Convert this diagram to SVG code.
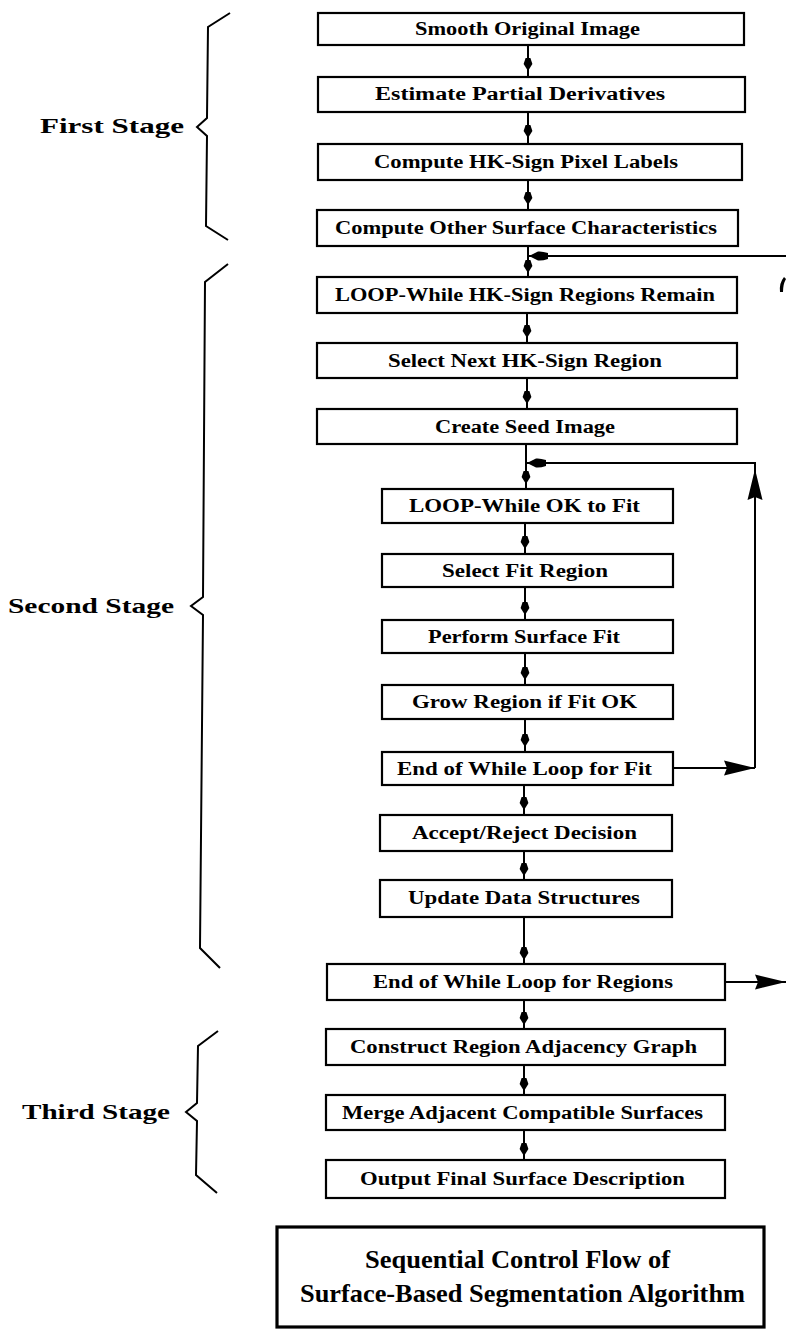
<svg xmlns="http://www.w3.org/2000/svg" width="786" height="1333" viewBox="0 0 786 1333">
  <style>
    .box { fill: #fff; stroke: #000; stroke-width: 2.2; }
    .title-box { fill: #fff; stroke: #000; stroke-width: 3.2; }
    .lbl { font-family: "Liberation Serif", "Times New Roman", serif; font-weight: bold; font-size: 18px; fill: #000; text-anchor: middle; }
    .stage { font-family: "Liberation Serif", "Times New Roman", serif; font-weight: bold; font-size: 22px; fill: #000; }
    .title { font-family: "Liberation Serif", "Times New Roman", serif; font-weight: bold; font-size: 25px; fill: #000; text-anchor: middle; }
    .wire { fill: none; stroke: #000; stroke-width: 2; }
    .brace { fill: none; stroke: #000; stroke-width: 2; stroke-linejoin: miter; }
  </style>
  <defs>
    <!-- small teardrop head used on the straight-down links -->
    <marker id="tip" markerUnits="userSpaceOnUse" markerWidth="14" markerHeight="10" refX="13" refY="5" orient="auto">
      <path d="M0,2.6 L6,0.6 L13,5 L6,9.4 L0,7.4 z" fill="#000"/>
    </marker>
    <!-- large solid head for the loop-back lines -->
    <marker id="big" markerUnits="userSpaceOnUse" markerWidth="32" markerHeight="16" refX="31" refY="8" orient="auto">
      <path d="M0,0.5 L31,8 L0,15.5 L3,8 z" fill="#000"/>
    </marker>
    <!-- junction head where a loop re-enters the main line -->
    <marker id="flag" markerUnits="userSpaceOnUse" markerWidth="20" markerHeight="12" refX="19" refY="6" orient="auto">
      <path d="M0,3 Q6,1 10,1.5 L19,6 L10,10.5 Q6,11 0,9 z" fill="#000"/>
    </marker>
  </defs>

  <!-- stage brackets and labels -->
  <g id="stage-first">
    <polyline class="brace" points="230,13 208,27 207,118 197,127 207,136 206,226 228,240"/>
    <text class="stage" x="40" y="133" textLength="144" lengthAdjust="spacingAndGlyphs">First Stage</text>
  </g>
  <g id="stage-second">
    <polyline class="brace" points="228,264 205,282 203,597 191,606 203,615 200,948 220,968"/>
    <text class="stage" x="8" y="613" textLength="166" lengthAdjust="spacingAndGlyphs">Second Stage</text>
  </g>
  <g id="stage-third">
    <polyline class="brace" points="218,1031 198,1046 197,1103 186,1112 197,1121 196,1175 217,1193"/>
    <text class="stage" x="22" y="1119" textLength="148" lengthAdjust="spacingAndGlyphs">Third Stage</text>
  </g>

  <!-- connectors -->
  <g id="connectors">
    <path class="wire" marker-mid="url(#tip)" d="M528,45 L528,71 L528,77"/>
    <path class="wire" marker-mid="url(#tip)" d="M528,112 L528,138 L528,144"/>
    <path class="wire" marker-mid="url(#tip)" d="M528,180 L528,205 L528,210"/>
    <path class="wire" marker-mid="url(#tip)" d="M528,246 L528,273 L528,277"/>
    <path class="wire" marker-mid="url(#tip)" d="M527,313 L527,338 L527,343"/>
    <path class="wire" marker-mid="url(#tip)" d="M527,378 L527,404 L527,409"/>
    <path class="wire" marker-mid="url(#tip)" d="M526,444 L526,484 L526,489"/>
    <path class="wire" marker-mid="url(#tip)" d="M525,523 L525,549 L525,554"/>
    <path class="wire" marker-mid="url(#tip)" d="M525,587 L525,615 L525,620"/>
    <path class="wire" marker-mid="url(#tip)" d="M525,653 L525,680 L525,685"/>
    <path class="wire" marker-mid="url(#tip)" d="M525,719 L525,747 L525,752"/>
    <path class="wire" marker-mid="url(#tip)" d="M524,785 L524,810 L524,815"/>
    <path class="wire" marker-mid="url(#tip)" d="M524,851 L524,876 L524,880"/>
    <path class="wire" marker-mid="url(#tip)" d="M524,917 L524,960 L524,964"/>
    <path class="wire" marker-mid="url(#tip)" d="M524,1000 L524,1025 L524,1029"/>
    <path class="wire" marker-mid="url(#tip)" d="M524,1065 L524,1091 L524,1095"/>
    <path class="wire" marker-mid="url(#tip)" d="M524,1130 L524,1156 L524,1160"/>

    <!-- inner loop: end of fit loop back up to the fit entry -->
    <path class="wire" marker-end="url(#big)" d="M673,768 L755,768"/>
    <path class="wire" marker-end="url(#big)" d="M755,768 L755,469"/>
    <path class="wire" marker-end="url(#flag)" d="M755,469 L755,463 L527,463"/>

    <!-- outer loop: end of region loop, running off the right edge and back -->
    <path class="wire" marker-end="url(#big)" d="M725,982 L786,982"/>
    <path class="wire" marker-end="url(#flag)" d="M786,256 L529,256"/>
    <path d="M784,277 Q779,283 780,292 L783,292 Q783,284 786,279 z" fill="#000"/>
  </g>

  <!-- process steps -->
  <g id="n-smooth"><rect class="box" x="318" y="13" width="426" height="32"/><text class="lbl" x="527.5" y="35" textLength="225" lengthAdjust="spacingAndGlyphs">Smooth Original Image</text></g>
  <g id="n-derivatives"><rect class="box" x="318" y="77" width="427" height="35"/><text class="lbl" x="520" y="100" textLength="290" lengthAdjust="spacingAndGlyphs">Estimate Partial Derivatives</text></g>
  <g id="n-hk-labels"><rect class="box" x="318" y="144" width="424" height="36"/><text class="lbl" x="526" y="168" textLength="304" lengthAdjust="spacingAndGlyphs">Compute HK-Sign Pixel Labels</text></g>
  <g id="n-other"><rect class="box" x="317" y="210" width="421" height="36"/><text class="lbl" x="526" y="234" textLength="382" lengthAdjust="spacingAndGlyphs">Compute Other Surface Characteristics</text></g>
  <g id="n-loop-regions"><rect class="box" x="317" y="277" width="420" height="36"/><text class="lbl" x="525" y="301" textLength="380" lengthAdjust="spacingAndGlyphs">LOOP-While HK-Sign Regions Remain</text></g>
  <g id="n-next-region"><rect class="box" x="317" y="343" width="420" height="35"/><text class="lbl" x="525" y="367" textLength="274" lengthAdjust="spacingAndGlyphs">Select Next HK-Sign Region</text></g>
  <g id="n-seed"><rect class="box" x="317" y="409" width="420" height="35"/><text class="lbl" x="525" y="433" textLength="180" lengthAdjust="spacingAndGlyphs">Create Seed Image</text></g>
  <g id="n-loop-fit"><rect class="box" x="382" y="489" width="291" height="34"/><text class="lbl" x="524.5" y="512" textLength="231" lengthAdjust="spacingAndGlyphs">LOOP-While OK to Fit</text></g>
  <g id="n-fit-region"><rect class="box" x="382" y="554" width="291" height="33"/><text class="lbl" x="525" y="577" textLength="166" lengthAdjust="spacingAndGlyphs">Select Fit Region</text></g>
  <g id="n-surface-fit"><rect class="box" x="382" y="620" width="291" height="33"/><text class="lbl" x="524" y="643" textLength="192" lengthAdjust="spacingAndGlyphs">Perform Surface Fit</text></g>
  <g id="n-grow"><rect class="box" x="382" y="685" width="291" height="34"/><text class="lbl" x="524.5" y="708" textLength="225" lengthAdjust="spacingAndGlyphs">Grow Region if Fit OK</text></g>
  <g id="n-end-fit"><rect class="box" x="382" y="752" width="291" height="33"/><text class="lbl" x="524.5" y="775" textLength="255" lengthAdjust="spacingAndGlyphs">End of While Loop for Fit</text></g>
  <g id="n-decision"><rect class="box" x="380" y="815" width="292" height="36"/><text class="lbl" x="524.5" y="839" textLength="225" lengthAdjust="spacingAndGlyphs">Accept/Reject Decision</text></g>
  <g id="n-update"><rect class="box" x="380" y="880" width="292" height="37"/><text class="lbl" x="524" y="904" textLength="232" lengthAdjust="spacingAndGlyphs">Update Data Structures</text></g>
  <g id="n-end-regions"><rect class="box" x="327" y="964" width="398" height="36"/><text class="lbl" x="523" y="988" textLength="300" lengthAdjust="spacingAndGlyphs">End of While Loop for Regions</text></g>
  <g id="n-adjacency"><rect class="box" x="326" y="1029" width="399" height="36"/><text class="lbl" x="523.5" y="1053" textLength="347" lengthAdjust="spacingAndGlyphs">Construct Region Adjacency Graph</text></g>
  <g id="n-merge"><rect class="box" x="326" y="1095" width="399" height="35"/><text class="lbl" x="522.5" y="1119" textLength="361" lengthAdjust="spacingAndGlyphs">Merge Adjacent Compatible Surfaces</text></g>
  <g id="n-output"><rect class="box" x="326" y="1160" width="399" height="38"/><text class="lbl" x="522.5" y="1185" textLength="325" lengthAdjust="spacingAndGlyphs">Output Final Surface Description</text></g>

  <!-- caption block -->
  <g id="caption">
    <rect class="title-box" x="277" y="1227" width="487" height="100"/>
    <text class="title" x="517.5" y="1268" textLength="305" lengthAdjust="spacingAndGlyphs">Sequential Control Flow of</text>
    <text class="title" x="522.5" y="1302" textLength="445" lengthAdjust="spacingAndGlyphs">Surface-Based Segmentation Algorithm</text>
  </g>
</svg>
